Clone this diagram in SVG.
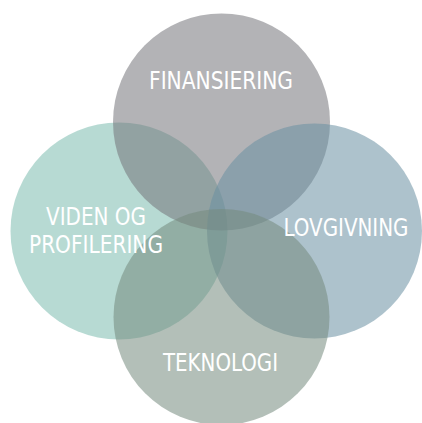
<svg xmlns="http://www.w3.org/2000/svg" width="422" height="423" viewBox="0 0 422 423">
<style>
.c{fill-opacity:0.55}
.t{fill:#ffffff;font-family:"DejaVu Sans Condensed","DejaVu Sans","Liberation Sans",sans-serif;font-stretch:condensed;font-size:24px;text-anchor:middle}
</style>
<rect width="422" height="423" fill="#ffffff"/>
<g id="connectors"></g>
<g id="node-left"><circle class="c" cx="119" cy="231" r="108.5" fill="#7cbcaf"/></g>
<g id="node-top"><circle class="c" cx="221.5" cy="122" r="108.5" fill="#75757a"/></g>
<g id="node-right"><circle class="c" cx="314.5" cy="231" r="107.5" fill="#6a90a2"/></g>
<g id="node-bottom"><circle class="c" cx="221.5" cy="317" r="108" fill="#758b7e"/></g>
<g id="labels">
<text class="t" x="221" y="89" textLength="144" lengthAdjust="spacingAndGlyphs">FINANSIERING</text>
<text class="t" x="96" y="225" textLength="100" lengthAdjust="spacingAndGlyphs">VIDEN OG</text>
<text class="t" x="96" y="253" textLength="134" lengthAdjust="spacingAndGlyphs">PROFILERING</text>
<text class="t" x="346" y="236" textLength="125" lengthAdjust="spacingAndGlyphs">LOVGIVNING</text>
<text class="t" x="220.5" y="371" textLength="115" lengthAdjust="spacingAndGlyphs">TEKNOLOGI</text>
</g>
</svg>
